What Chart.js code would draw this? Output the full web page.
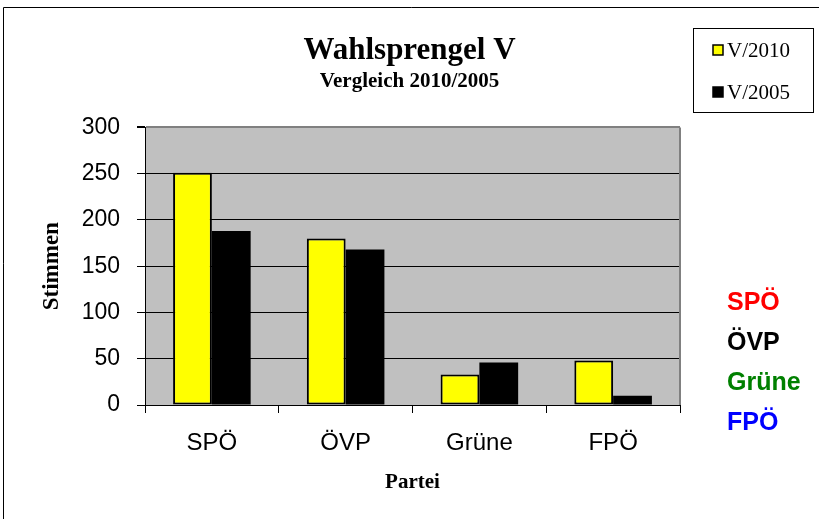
<!DOCTYPE html>
<html>
<head>
<meta charset="utf-8">
<script src="https://cdn.jsdelivr.net/npm/chart.js@4"></script>
<style>
  body { margin: 0; background: #fff; }
  #wrap { width: 819px; height: 519px; position: relative; }
</style>
</head>
<body>
<div id="wrap"><canvas id="chart" width="819" height="519"></canvas></div>
<script>
// data
const parties = ['SPÖ', 'ÖVP', 'Grüne', 'FPÖ'];
const partyColors = ['#FF0000', '#000000', '#008000', '#0000FF'];
const votes2010 = [251, 180, 33, 48];
const votes2005 = [188, 168, 46, 10];
const yTicks = [0, 50, 100, 150, 200, 250, 300];

// grey plot area, outer frame, legend box and the coloured party list
const decorations = {
    id: 'decorations',
    beforeDraw(chart) {
        const ctx = chart.ctx;
        const a = chart.chartArea;
        ctx.save();
        ctx.fillStyle = '#C0C0C0';
        ctx.fillRect(a.left, a.top, a.right - a.left, a.bottom - a.top);
        // outer frame
        ctx.lineWidth = 1;
        ctx.strokeStyle = '#000';
        ctx.beginPath();
        ctx.moveTo(3.5, 600);
        ctx.lineTo(3.5, 7.5);
        ctx.lineTo(900, 7.5);
        ctx.stroke();
        ctx.restore();
    },
    beforeDatasetsDraw(chart) {
        const ctx = chart.ctx;
        const a = chart.chartArea;
        ctx.save();
        ctx.strokeStyle = '#808080';
        ctx.lineWidth = 2;
        ctx.beginPath();
        ctx.moveTo(a.right, a.top);
        ctx.lineTo(a.right, a.bottom);
        ctx.stroke();
        ctx.restore();
    },
    afterDraw(chart) {
        const ctx = chart.ctx;
        ctx.save();
        // legend
        ctx.fillStyle = '#fff';
        ctx.fillRect(693, 28, 120, 84);
        ctx.strokeStyle = '#000';
        ctx.lineWidth = 1;
        ctx.strokeRect(693.5, 28.5, 120, 84);
        ctx.font = '21px "Liberation Serif", "Times New Roman", serif';
        ctx.textBaseline = 'middle';
        ctx.textAlign = 'left';
        chart.data.datasets.forEach((ds, i) => {
            const y = 50 + i * 42;
            ctx.fillStyle = ds.backgroundColor;
            ctx.fillRect(713, y - 5, 10, 10);
            ctx.strokeStyle = '#000';
            ctx.lineWidth = 1.5;
            ctx.strokeRect(713, y - 5, 10, 10);
            ctx.fillStyle = '#000';
            ctx.fillText(ds.label, 727, y + 1);
        });
        // party names
        ctx.font = 'bold 25px "Liberation Sans", Arial, sans-serif';
        chart.data.labels.forEach((name, i) => {
            ctx.fillStyle = partyColors[i];
            ctx.fillText(name, 727, 303 + i * 40);
        });
        ctx.restore();
    }
};

const ctx = document.getElementById('chart').getContext('2d');
const chart = new Chart(ctx, {
    type: 'bar',
    data: {
        labels: parties,
        datasets: [{
            label: 'V/2010',
            data: votes2010,
            backgroundColor: '#FFFF00',
            borderColor: '#000',
            borderWidth: 2,
            borderSkipped: false
        },
        {
            label: 'V/2005',
            data: votes2005,
            backgroundColor: '#000000',
            borderColor: '#000',
            borderWidth: 0
        }]
    },
    options: {
        responsive: false,
        animation: false,
        layout: { padding: 0 },
        datasets: {
            bar: { categoryPercentage: 0.58, barPercentage: 1 }
        },
        plugins: {
            legend: { display: false },
            tooltip: { enabled: false },
            title: {
                display: true,
                text: 'Wahlsprengel V',
                color: '#000',
                font: { family: '"Liberation Serif", "Times New Roman", serif', size: 31, weight: 'bold' },
                padding: { top: 32, bottom: 0 }
            },
            subtitle: {
                display: true,
                text: 'Vergleich 2010/2005',
                color: '#000',
                font: { family: '"Liberation Serif", "Times New Roman", serif', size: 21, weight: 'bold' },
                padding: { top: 0, bottom: 33 }
            }
        },
        scales: {
            x: {
                grid: { drawOnChartArea: false, color: '#000', tickLength: 8 },
                border: { color: '#000', width: 1 },
                ticks: {
                    color: '#000',
                    padding: 16,
                    font: { family: '"Liberation Sans", Arial, sans-serif', size: 24 }
                },
                title: {
                    display: true,
                    text: 'Partei',
                    color: '#000',
                    font: { family: '"Liberation Serif", "Times New Roman", serif', size: 21, weight: 'bold' },
                    padding: { top: 0, bottom: 24 }
                },
                afterFit(scale) { scale.height = 114; }
            },
            y: {
                min: 0,
                max: 300,
                afterBuildTicks(scale) { scale.ticks = yTicks.map(v => ({ value: v })); },
                grid: {
                    color: c => (c.tick && c.tick.value === 300 ? '#808080' : '#000'),
                    tickColor: '#000',
                    tickLength: 8,
                    lineWidth: c => (c.tick && c.tick.value === 300 ? 2 : 1)
                },
                border: { color: '#000', width: 1 },
                ticks: {
                    color: '#000',
                    padding: 17,
                    font: { family: '"Liberation Sans", Arial, sans-serif', size: 23 }
                },
                title: {
                    display: true,
                    text: 'Stimmen',
                    color: '#000',
                    font: { family: '"Liberation Serif", "Times New Roman", serif', size: 23, weight: 'bold' },
                    padding: { top: 38, bottom: 0 }
                },
                afterFit(scale) { scale.width = 145; }
            },
            spacer: {
                position: 'right',
                display: true,
                grid: { display: false },
                border: { display: false },
                ticks: { display: false },
                afterFit(scale) { scale.width = 139; }
            }
        }
    },
    plugins: [decorations]
});
</script>
</body>
</html>
